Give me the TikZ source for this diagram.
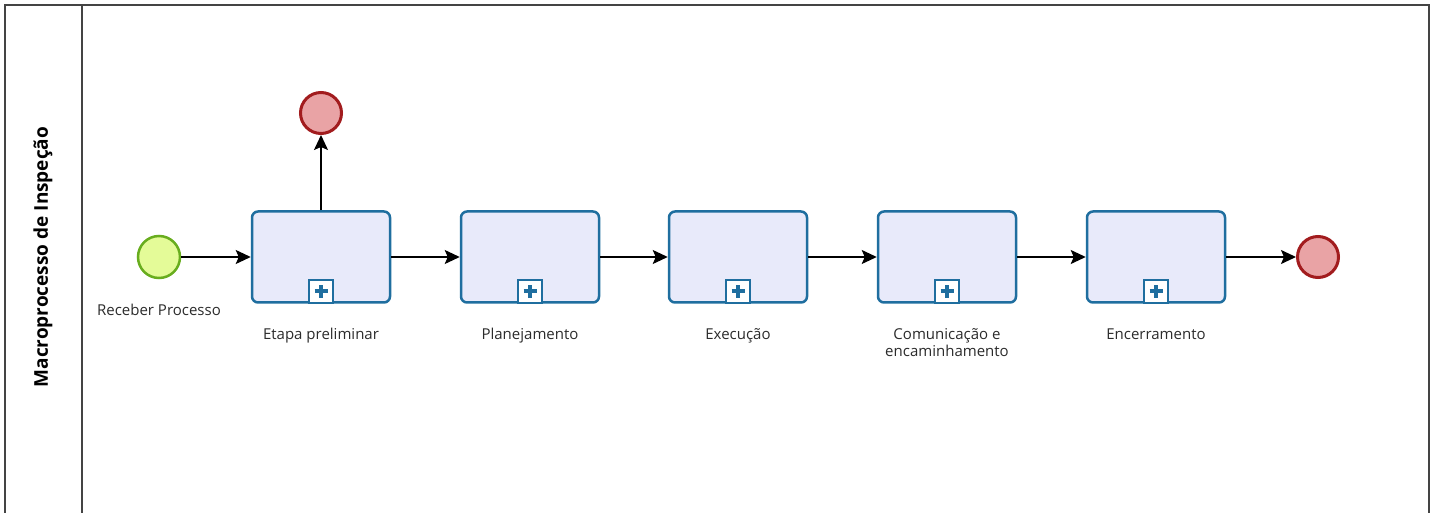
\documentclass[tikz,border=0pt]{standalone}
\usepackage{fontspec}
\setmainfont{Open Sans}
\usetikzlibrary{arrows.meta,positioning}

\definecolor{taskfill}{HTML}{E8EAFA}
\definecolor{taskline}{HTML}{1F6E9F}
\definecolor{startfill}{HTML}{E4FB98}
\definecolor{startline}{HTML}{68AD1E}
\definecolor{endfill}{HTML}{E9A3A5}
\definecolor{endline}{HTML}{A21C1E}
\definecolor{framecl}{HTML}{444444}
\definecolor{labeltext}{HTML}{2B2B2B}

\begin{document}
\begin{tikzpicture}[x=1pt,y=-1pt,
    task/.style={draw=taskline, fill=taskfill, line width=2.5pt, rounded corners=6pt,
                 minimum width=138pt, minimum height=91pt, inner sep=0pt},
    startev/.style={circle, draw=startline, fill=startfill, line width=2.5pt,
                    minimum size=42pt, inner sep=0pt},
    endev/.style={circle, draw=endline, fill=endfill, line width=3pt,
                  minimum size=41pt, inner sep=0pt},
    subproc/.style={draw=taskline, fill=white, line width=2pt, minimum width=24pt,
                    minimum height=23pt, inner sep=0pt, anchor=south,
                    path picture={
                      \draw[taskline, line width=3.8pt]
                        ([yshift=-6.5pt]path picture bounding box.center) -- ([yshift=6.5pt]path picture bounding box.center)
                        ([xshift=-6.5pt]path picture bounding box.center) -- ([xshift=6.5pt]path picture bounding box.center);}},
    flow/.style={line width=1.7pt, -{Stealth[length=15pt, width=14pt, inset=3pt]}},
    lbl/.style={font=\fontsize{15}{17}\selectfont, text=labeltext, align=center, inner sep=0pt}
  ]
  \clip (0,0) rectangle (1436,513);
  % pool and lane
  \draw[framecl, line width=2pt] (5,5) rectangle (1429,530);
  \draw[framecl, line width=2pt] (82,5) -- (82,530);
  \node[rotate=90, font=\fontsize{19}{22}\selectfont\bfseries] (lane) at (43,257) {Macroprocesso de Inspeção};

  % events
  \node[startev] (start) at (159,257) {};
  \node[lbl, below=25pt of start] (lstart) {Receber Processo};
  \node[endev] (endtop) at (321,113) {};
  \node[endev] (endright) at (1318,257) {};

  % subprocesses
  \node[task] (t1) at (321,257) {};
  \node[task] (t2) at (530,257) {};
  \node[task] (t3) at (738,257) {};
  \node[task] (t4) at (947,257) {};
  \node[task] (t5) at (1156,257) {};
  \node[subproc] (m1) at (t1.south) {};
  \node[subproc] (m2) at (t2.south) {};
  \node[subproc] (m3) at (t3.south) {};
  \node[subproc] (m4) at (t4.south) {};
  \node[subproc] (m5) at (t5.south) {};
  \node[lbl, below=24.5pt of t1] (l1) {Etapa preliminar};
  \node[lbl, below=24.5pt of t2] (l2) {Planejamento};
  \node[lbl, below=24.5pt of t3] (l3) {Execução};
  \node[lbl, below=24.5pt of t4] (l4) {Comunicação e\\encaminhamento};
  \node[lbl, below=24.5pt of t5] (l5) {Encerramento};

  % sequence flows
  \draw[flow] (start) -- (t1);
  \draw[flow] (t1) -- (endtop);
  \draw[flow] (t1) -- (t2);
  \draw[flow] (t2) -- (t3);
  \draw[flow] (t3) -- (t4);
  \draw[flow] (t4) -- (t5);
  \draw[flow] (t5) -- (endright);
\end{tikzpicture}
\end{document}
